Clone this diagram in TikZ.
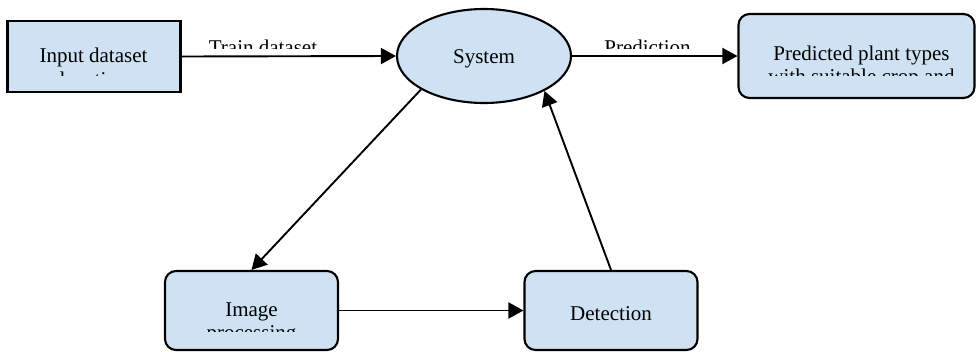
\documentclass[tikz,border=0pt]{standalone}
\usepackage{fontspec}
\setmainfont{Liberation Serif}
\usetikzlibrary{arrows.meta,shapes.geometric}
\definecolor{boxfill}{RGB}{207,226,243}
\begin{document}
\begin{tikzpicture}[x=1pt,y=-1pt,
  every node/.style={font=\fontsize{21}{24}\selectfont, inner sep=0pt},
  plainbox/.style={draw, line width=2.1pt, fill=boxfill, rectangle,
    minimum width=173pt, minimum height=71pt},
  roundbox/.style={draw, line width=2.1pt, fill=boxfill, rectangle,
    rounded corners=11pt, minimum width=173pt, minimum height=79pt},
  sysshape/.style={draw, line width=2.1pt, fill=boxfill, ellipse,
    minimum width=174pt, minimum height=94pt},
  flow/.style={line width=1.9pt, -{Triangle[length=15pt,width=16pt]}},
  linetext/.style={anchor=base}]

\useasboundingbox (0,0) rectangle (977,351);

% shapes
\node[plainbox] (inp) at (94,56.5) {};
\node[sysshape, text height=18pt, text depth=4pt] (sys) at (484,56) {System};
\node[roundbox, minimum width=236pt, minimum height=84pt] (pred) at (856.5,56) {};
\node[roundbox] (img) at (251.5,310.5) {};
\node[roundbox, text height=20.4pt, text depth=0pt] (det) at (611,310.5) {Detection};

% box texts, cut off below the first line
\begin{scope}
  \clip (9,22) rectangle (180,75);
  \node[linetext] (inpA) at (93.5,62) {Input dataset};
  \node[linetext] (inpB) at (93.5,86) {location};
\end{scope}
\begin{scope}
  \clip (740,16) rectangle (973,75.5);
  \node[linetext] (predA) at (861.5,60) {Predicted plant types};
  \node[linetext] (predB) at (861.5,83) {with suitable crop and};
\end{scope}
\begin{scope}
  \clip (167,273) rectangle (336,331.5);
  \node[linetext] (imgA) at (251.5,316) {Image};
  \node[linetext] (imgB) at (251.5,339.5) {processing};
\end{scope}

% connector labels, cut off at the top of the line
\begin{scope}
  \clip (190,30) rectangle (340,48);
  \node[linetext] (trainlbl) at (263,54) {Train dataset};
\end{scope}
\begin{scope}
  \clip (590,30) rectangle (710,48);
  \node[linetext] (predlbl) at (647.5,54) {Prediction};
\end{scope}

% connectors
\draw[flow] (inp.east) -- (sys.west);
\draw[flow] (sys.east) -- (pred.west);
\draw[flow] (sys.208) -- (img.north);
\draw[flow] (img.east) -- (det.west);
\draw[flow] (det.north) -- (sys.330);
\end{tikzpicture}
\end{document}
